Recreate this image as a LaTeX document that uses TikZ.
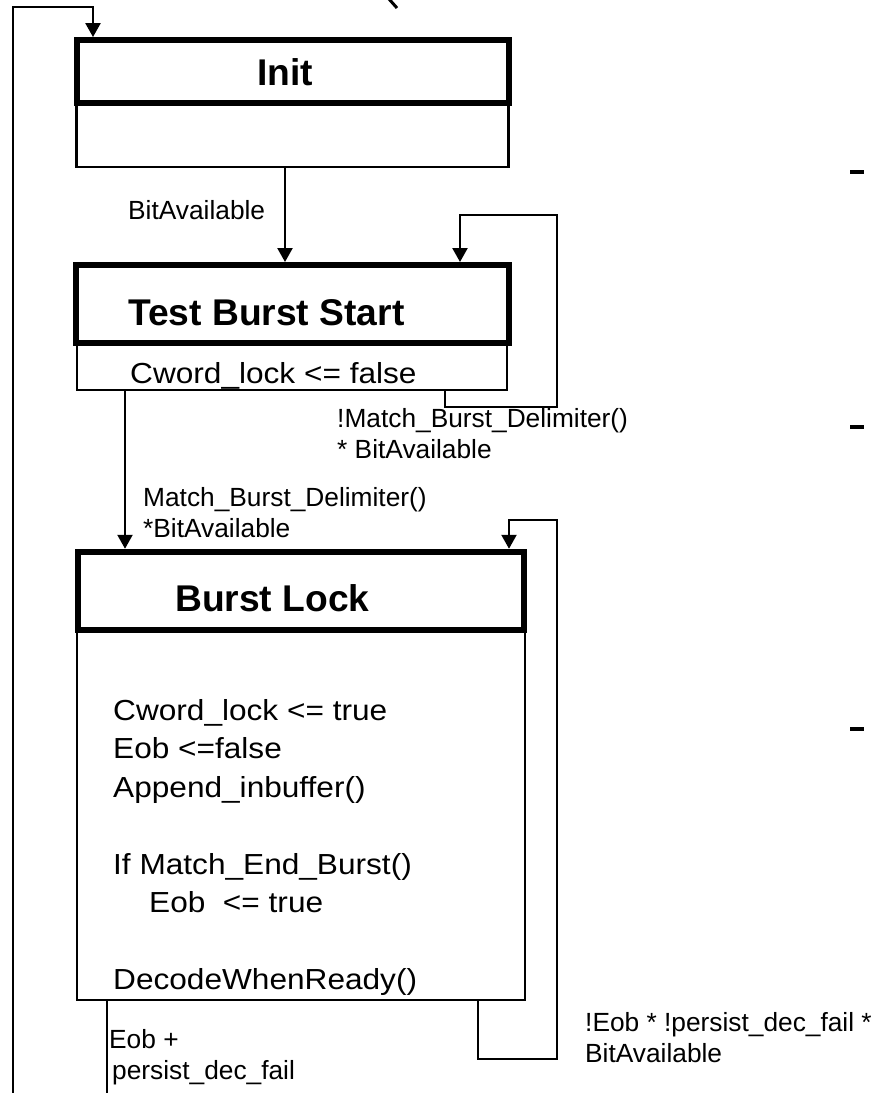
\documentclass[tikz,border=0pt]{standalone}
\usepackage{fontspec}
\setmainfont{Liberation Sans}
\newfontfamily\bodyfont[FakeStretch=1.09]{Liberation Sans}
\usetikzlibrary{positioning,arrows.meta}

\tikzset{
  head/.style={draw, line width=6pt, inner sep=0pt, outer sep=3pt},
  body/.style={draw, line width=2.4pt, inner sep=0pt, outer sep=1.2pt},
  title/.style={font=\bfseries\fontsize{37.2}{44}\selectfont, inner sep=0pt, anchor=base west},
  code/.style={font=\bodyfont\fontsize{29}{38.5}\selectfont, inner sep=0pt, anchor=base west, align=left},
  cond/.style={font=\fontsize{26.3}{30.5}\selectfont, inner sep=0pt, anchor=base west, align=left},
  flow/.style={line width=2.4pt, -{Triangle[length=14pt,width=15pt]}}
}

\begin{document}
\begin{tikzpicture}[x=1pt, y=-1pt]
            \useasboundingbox (0,0) rectangle (880,1093);
            \clip (0,0) rectangle (880,1093);
            % states: thin body first, thick header on top
            \node[body, minimum width=432pt, minimum height=63.4pt] (initB) at (292.6,135) {};
            \node[head, minimum width=432pt, minimum height=63.3pt] (initH) at (292.7,71.7) {};
            \node[body, minimum width=430pt, minimum height=47pt] (tsB) at (291.7,366.5) {};
            \node[head, minimum width=432.3pt, minimum height=78pt] (tsH) at (292.6,304) {};
            \node[body, minimum width=448pt, minimum height=370pt] (lockB) at (301,815) {};
            \node[head, minimum width=446.7pt, minimum height=78.3pt] (lockH) at (301.1,590.9) {};
            \node[title] (initT) at (257,85) {Init};
            \node[title] (tsT) at (128,325) {Test Burst Start};
            \node[title] (lockT) at (175,611.7) {Burst Lock};
            \node[code] (tsC) at (130,383) {Cword\_lock <= false};
            % multi-line nodes sit on the baseline of their last line
            \node[code] (lockC) at (113,989.5) {Cword\_lock <= true\\
              Eob <=false\\
              Append\_inbuffer()\\
              \\
              If Match\_End\_Burst()\\
              \hspace*{36pt}Eob\ \ <= true\\
              \\
              DecodeWhenReady()};
            % transitions
            \draw[flow] (285,0 |- initB.south) -- (285,0 |- tsH.north);
            \draw[flow] (445,0 |- tsB.south) -- (445,407) -| (557,215) -| (460,0 |- tsH.north);
            \draw[flow] (125,0 |- tsB.south) -- (125,0 |- lockH.north);
            \draw[flow] (478,0 |- lockB.south) -- (478,1059) -| (556.7,520) -| (509,0 |- lockH.north);
            \draw[flow] (107,0 |- lockB.south) -- (107,1120) -| (13,7) -| (93,0 |- initH.north);
            \node[cond] (c1) at (128,219) {BitAvailable};
            \node[cond] (c2) at (337,458) {!Match\_Burst\_Delimiter()\\* BitAvailable};
            \node[cond] (c3) at (143,537) {Match\_Burst\_Delimiter()\\*BitAvailable};
            \node[cond] (c4) at (109,1079) {Eob +\\\hspace*{3pt}persist\_dec\_fail};
            \node[cond] (c5) at (585,1062) {!Eob * !persist\_dec\_fail *\\BitAvailable};
            % marks at the right edge
            \foreach \y in {172,427,729}
              \draw[line width=4pt] (850,\y) -- (864,\y);
            \draw[line width=3pt] (389,-1) -- (397,8);
\end{tikzpicture}
\end{document}
